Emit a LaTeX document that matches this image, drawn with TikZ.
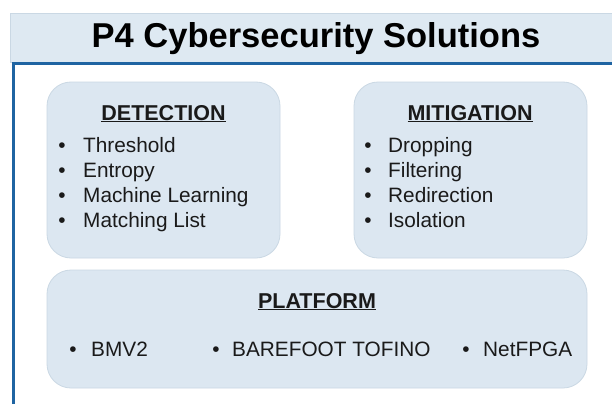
\documentclass[tikz,border=0pt]{standalone}
\usepackage{fontspec}
\setmainfont{Liberation Sans}
\definecolor{boxfill}{HTML}{DCE7F1}
\definecolor{boxedge}{HTML}{CAD8E4}
\definecolor{bandfill}{HTML}{DEE9F2}
\definecolor{frameblue}{HTML}{1F64A2}
\definecolor{txt}{HTML}{1A1A1A}
\begin{document}
\begin{tikzpicture}[x=1pt,y=-1pt,
  panel/.style={draw=boxedge,line width=0.8pt,fill=boxfill,rounded corners=24pt},
  head/.style={font=\fontsize{21.5}{24}\selectfont\bfseries,text=txt,anchor=base,inner sep=0pt},
  item/.style={font=\fontsize{20.8}{24}\selectfont,text=txt,anchor=base west,inner sep=0pt},
  bul/.style={font=\fontsize{20.8}{24}\selectfont,text=txt,anchor=base,inner sep=0pt}]
\useasboundingbox (0,0) rectangle (612,404);
\fill[white] (0,0) rectangle (612,404);
% title band
\filldraw[fill=bandfill,draw=boxedge,line width=0.6pt] (10,13) rectangle (614,62);
\node[font=\fontsize{34.5}{38}\selectfont\bfseries,text=black,inner sep=0pt,anchor=base] (title) at (316,47.5) {P4 Cybersecurity Solutions};
% frame
\draw[frameblue,line width=3pt] (13.5,404) -- (13.5,63.5) -- (614,63.5);
% panels
\draw[panel] (47,82) rectangle (280,258);
\draw[panel] (354,82) rectangle (587,258);
\draw[panel] (47,270) rectangle (587,388);
% detection
\node[head] (dh) at (163.5,120) {\underline{DETECTION}};
\foreach \t [count=\i] in {Threshold,Entropy,Machine Learning,Matching List}{
  \node[bul] (db\i) at (62,{127+25*\i}) {\textbullet};
  \node[item] (d\i) at (83,{127+25*\i}) {\t};
}
% mitigation
\node[head] (mh) at (470,120) {\underline{MITIGATION}};
\foreach \t [count=\i] in {Dropping,Filtering,Redirection,Isolation}{
  \node[bul] (mb\i) at (368,{127+25*\i}) {\textbullet};
  \node[item] (m\i) at (388,{127+25*\i}) {\t};
}
% platform
\node[head] (ph) at (317,308) {\underline{PLATFORM}};
\node[bul] (pb1) at (73,356) {\textbullet};
\node[item] (p1) at (91,356) {BMV2};
\node[bul] (pb2) at (216,356) {\textbullet};
\node[item] (p2) at (232,356) {BAREFOOT TOFINO};
\node[bul] (pb3) at (466,356) {\textbullet};
\node[item] (p3) at (483,356) {NetFPGA};
\end{tikzpicture}
\end{document}
